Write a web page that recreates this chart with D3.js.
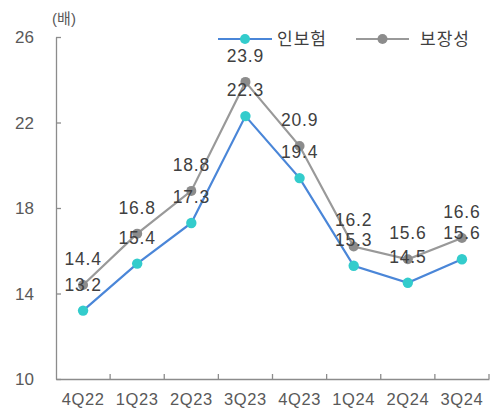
<!DOCTYPE html>
<html><head><meta charset="utf-8">
<script src="https://cdn.jsdelivr.net/npm/d3@7"></script>
<style>body{margin:0;background:#fff}svg{display:block}text{font-family:"Liberation Sans","Noto Sans CJK KR",sans-serif}</style>
</head><body><svg id="c" width="496" height="414"></svg>
<script>
const categories = ["4Q22","1Q23","2Q23","3Q23","4Q23","1Q24","2Q24","3Q24"];
const seriesNames = ["인보험","보장성"];
const insurance = [13.2,15.4,17.3,22.3,19.4,15.3,14.5,15.6];
const protection = [14.4,16.8,18.8,23.9,20.9,16.2,15.6,16.6];
const yTicks = [10,14,18,22,26];
const unitLabel = "(배)";

const svg = d3.select("#c");
const x = d3.scaleBand().domain(categories).range([56,489]);
const y = d3.scaleLinear().domain([10,26]).range([379,37]);
const axisColor = "#8c8c8c", textColor = "#595959";

// y axis
const ya = svg.append("g").attr("transform","translate(56,0)")
  .call(d3.axisLeft(y).tickValues(yTicks).tickSizeInner(-5).tickSizeOuter(0).tickPadding(22));
ya.select(".domain").attr("stroke",axisColor).attr("stroke-width",1.3);
ya.selectAll(".tick line").attr("stroke",axisColor).attr("stroke-width",1.3);
ya.selectAll(".tick text").attr("fill",textColor).style("font-size","17px").attr("dy","0.35em");

// x axis
const xa = svg.append("g").attr("transform","translate(0,379)")
  .call(d3.axisBottom(x).tickSize(0).tickPadding(14));
xa.select(".domain").attr("stroke",axisColor).attr("stroke-width",1.3);
xa.selectAll(".tick text").attr("fill",textColor).style("font-size","16.5px").style("letter-spacing","0.6px");
const bounds = categories.map(c=>x(c)).concat([x.range()[1]]).slice(1);
svg.append("g").selectAll("line").data(bounds).join("line")
  .attr("x1",d=>d).attr("x2",d=>d).attr("y1",379).attr("y2",374)
  .attr("stroke",axisColor).attr("stroke-width",1.3);

svg.append("text").attr("x",64).attr("y",24).attr("text-anchor","middle")
  .attr("fill",textColor).style("font-size","15px").text(unitLabel);

const cx = d=>x(d)+x.bandwidth()/2;
const series = [
  {name:seriesNames[1], vals:protection, line:"#999999", dot:"#8c8c8c", r:5},
  {name:seriesNames[0], vals:insurance, line:"#4a86d8", dot:"#33cccc", r:5.2}
];
series.forEach(s=>{
  const line = d3.line().x((d,i)=>cx(categories[i])).y(d=>y(d));
  svg.append("path").datum(s.vals).attr("d",line).attr("fill","none")
    .attr("stroke",s.line).attr("stroke-width",2.2);
  svg.append("g").selectAll("circle").data(s.vals).join("circle")
    .attr("cx",(d,i)=>cx(categories[i])).attr("cy",d=>y(d)).attr("r",s.r).attr("fill",s.dot);
});
series.forEach(s=>{
  svg.append("g").selectAll("text").data(s.vals).join("text")
    .attr("x",(d,i)=>cx(categories[i])).attr("y",d=>y(d)-20)
    .attr("text-anchor","middle").attr("fill","#404040")
    .style("font-size","17.5px").style("letter-spacing","0.8px")
    .text(d=>d.toFixed(1));
});

// legend
const leg = [
  {name:seriesNames[0], line:"#4a86d8", dot:"#33cccc", x1:218, x2:272, tx:277},
  {name:seriesNames[1], line:"#999999", dot:"#8c8c8c", x1:356, x2:409, tx:420}
];
leg.forEach(l=>{
  svg.append("line").attr("x1",l.x1).attr("x2",l.x2).attr("y1",39).attr("y2",39)
    .attr("stroke",l.line).attr("stroke-width",2.2);
  svg.append("circle").attr("cx",(l.x1+l.x2)/2).attr("cy",39).attr("r",5).attr("fill",l.dot);
  svg.append("text").attr("x",l.tx).attr("y",39).attr("dy","0.35em").attr("fill","#404040")
    .style("font-size","17px").style("letter-spacing","1px").text(l.name);
});
</script></body></html>
